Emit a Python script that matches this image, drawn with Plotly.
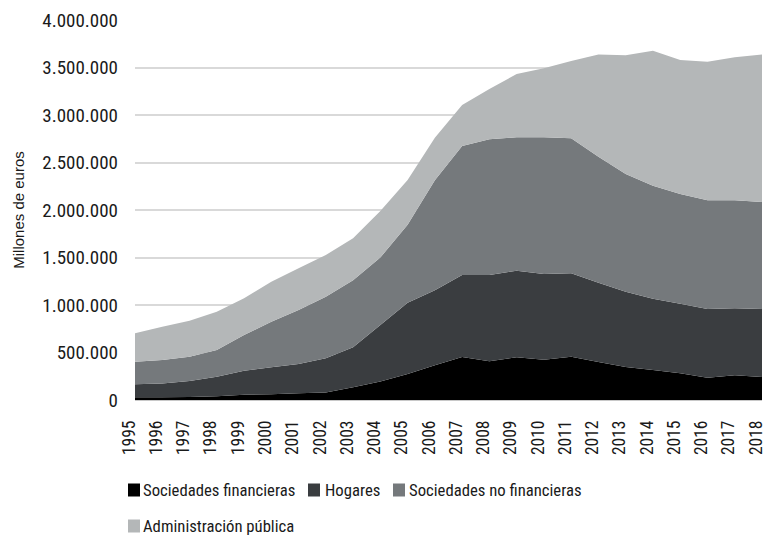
import plotly.graph_objects as go

years = list(range(1995, 2019))

# Millones de euros por sector
soc_financieras = [30000, 30000, 32000, 40000, 55000, 60000, 70000, 80000, 133000, 195000,
                   275000, 365000, 452000, 407000, 449000, 424000, 456000, 400000, 347000,
                   316000, 281000, 235000, 260000, 242000]
hogares = [135000, 145000, 168000, 206000, 254000, 284000, 309000, 359000, 422000, 595000,
           750000, 790000, 864000, 909000, 912000, 902000, 877000, 835000, 793000, 750000,
           733000, 723000, 705000, 716000]
soc_no_financieras = [238000, 246000, 256000, 280000, 375000, 480000, 568000, 649000, 705000,
                      710000, 820000, 1157000, 1358000, 1428000, 1404000, 1439000, 1421000,
                      1326000, 1239000, 1190000, 1154000, 1144000, 1137000, 1126000]
admin_publica = [299000, 351000, 379000, 404000, 386000, 421000, 439000, 438000, 442000,
                 490000, 471000, 448000, 431000, 529000, 666000, 726000, 814000, 1077000,
                 1249000, 1421000, 1411000, 1459000, 1505000, 1554000]

names = ["Sociedades financieras", "Hogares", "Sociedades no financieras",
         "Administración pública"]
values = [soc_financieras, hogares, soc_no_financieras, admin_publica]
colors = ["#000000", "#3a3d40", "#75797c", "#b4b7b8"]

FONT = "Liberation Sans Narrow, Roboto Condensed, DejaVu Sans Condensed, sans-serif"
TXT = "#1a1a1a"

# plot box in pixels (used to place the legend below the axis)
W, H = 765, 535
ML, MR, MT, MB = 135, 3, 20, 135
PW, PH = W - ML - MR, H - MT - MB


def px_x(x):
    return (x - ML) / PW


def px_y(y):
    return (H - MB - y) / PH


fig = go.Figure()
for name, vals, color in zip(names, values, colors):
    fig.add_trace(go.Scatter(
        x=years, y=vals, name=name, stackgroup="deuda", mode="none",
        fillcolor=color, line=dict(width=0), showlegend=False,
        hovertemplate="%{x}: %{y:,}<extra>" + name + "</extra>",
    ))

# legend: square swatch + label, two rows
legend_slots = [(128, 141, 490), (308, 323, 490), (393, 407, 490), (128, 141, 526)]
shapes, annotations = [], []
for (sq_x, tx_x, cy), name, color in zip(legend_slots, names, colors):
    shapes.append(dict(type="rect", xref="paper", yref="paper",
                       x0=px_x(sq_x), x1=px_x(sq_x + 12),
                       y0=px_y(cy - 6.5), y1=px_y(cy + 6.5),
                       fillcolor=color, line=dict(width=0)))
    annotations.append(dict(text=name, xref="paper", yref="paper",
                            x=px_x(tx_x), y=px_y(cy), xanchor="left", yanchor="middle",
                            showarrow=False,
                            font=dict(family=FONT, size=16.7, color=TXT)))

fig.update_layout(
    width=W, height=H,
    margin=dict(l=ML, r=MR, t=MT, b=MB, autoexpand=False),
    paper_bgcolor="white", plot_bgcolor="white",
    separators=",.",
    font=dict(family=FONT, size=18, color=TXT),
    showlegend=False,
    shapes=shapes, annotations=annotations,
    xaxis=dict(range=[1994.9999, 2018.0001], tickmode="array", tickvals=years,
               ticktext=[str(y) for y in years], tickangle=-90,
               showgrid=False, zeroline=False, showline=False, ticks="",
               ticklabelstandoff=16, ticklabelshift=-6,
               ticklabeloverflow="allow",
               tickfont=dict(family=FONT, size=17.5, color=TXT)),
    yaxis=dict(range=[0, 4000000], tickvals=[0, 500000, 1000000, 1500000, 2000000,
                                             2500000, 3000000, 3500000, 4000000],
               tickformat=",d", showgrid=True, gridcolor="#d9d9d9", gridwidth=1.5,
               zeroline=True, zerolinecolor="#c8c8c8", zerolinewidth=1.5,
               ticks="", ticklabelstandoff=16,
               title=dict(text="Millones de euros", standoff=14,
                          font=dict(family="Liberation Sans, Arial, sans-serif", size=15,
                                    color=TXT)),
               tickfont=dict(family=FONT, size=19, color=TXT)),
)

fig.write_html("out.html")
